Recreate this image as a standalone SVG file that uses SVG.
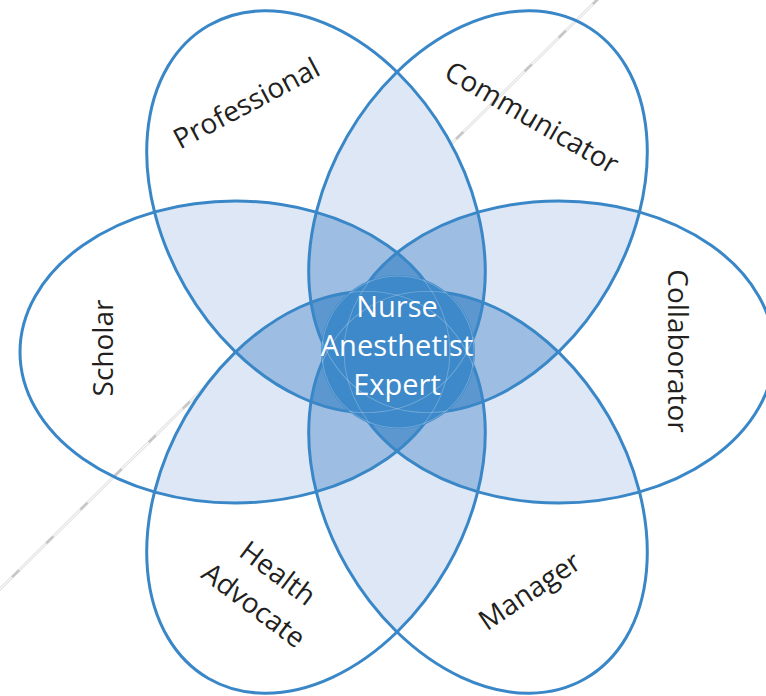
<svg xmlns="http://www.w3.org/2000/svg" xmlns:xlink="http://www.w3.org/1999/xlink" width="766" height="696" viewBox="0 0 766 696">
<style>
.lbl{font-family:"Open Sans","Noto Sans","Liberation Sans",sans-serif;font-size:28px;fill:#231f20;text-anchor:middle}
.ctr{font-family:"Open Sans","Noto Sans","Liberation Sans",sans-serif;font-size:29px;fill:#ffffff;text-anchor:middle}
.petal{fill:none;stroke:#3a87c8;stroke-width:3}
.ghost{fill:none;stroke:#ffffff;stroke-opacity:0.28;stroke-width:0.9}
</style>
<defs>
<ellipse id="e0" cx="559" cy="352" rx="215" ry="151"/>
<ellipse id="e1" cx="478" cy="492.3" rx="215" ry="151" transform="rotate(60 478 492.3)"/>
<ellipse id="e2" cx="316" cy="492.3" rx="215" ry="151" transform="rotate(-60 316 492.3)"/>
<ellipse id="e3" cx="235" cy="352" rx="215" ry="151"/>
<ellipse id="e4" cx="316" cy="211.7" rx="215" ry="151" transform="rotate(60 316 211.7)"/>
<ellipse id="e5" cx="478" cy="211.7" rx="215" ry="151" transform="rotate(-60 478 211.7)"/>
<clipPath id="c0"><use xlink:href="#e0" href="#e0"/></clipPath>
<clipPath id="c1"><use xlink:href="#e1" href="#e1"/></clipPath>
<clipPath id="c2"><use xlink:href="#e2" href="#e2"/></clipPath>
<clipPath id="c3"><use xlink:href="#e3" href="#e3"/></clipPath>
<clipPath id="c4"><use xlink:href="#e4" href="#e4"/></clipPath>
<clipPath id="c5"><use xlink:href="#e5" href="#e5"/></clipPath>
<clipPath id="cc"><circle cx="398" cy="352" r="77"/></clipPath>
</defs>

<g id="guide-line">
<line x1="600" y1="-3" x2="-3" y2="592" stroke="#e4e4e4" stroke-width="3"/>
<line x1="600" y1="-3" x2="-3" y2="592" stroke="#ffffff" stroke-width="1"/>
<line x1="600" y1="-3" x2="-3" y2="592" stroke="#c6c6c6" stroke-width="2.5" stroke-dasharray="10 38"/>
</g>

<g id="overlaps">
<g id="overlap-2" fill="#dde7f5">
<g clip-path="url(#c0)"><use href="#e1"/></g>
<g clip-path="url(#c0)"><use href="#e2"/></g>
<g clip-path="url(#c0)"><use href="#e3"/></g>
<g clip-path="url(#c0)"><use href="#e4"/></g>
<g clip-path="url(#c0)"><use href="#e5"/></g>
<g clip-path="url(#c1)"><use href="#e2"/></g>
<g clip-path="url(#c1)"><use href="#e3"/></g>
<g clip-path="url(#c1)"><use href="#e4"/></g>
<g clip-path="url(#c1)"><use href="#e5"/></g>
<g clip-path="url(#c2)"><use href="#e3"/></g>
<g clip-path="url(#c2)"><use href="#e4"/></g>
<g clip-path="url(#c2)"><use href="#e5"/></g>
<g clip-path="url(#c3)"><use href="#e4"/></g>
<g clip-path="url(#c3)"><use href="#e5"/></g>
<g clip-path="url(#c4)"><use href="#e5"/></g>
</g>
<g id="overlap-3" fill="#9ebde2">
<g clip-path="url(#c0)"><g clip-path="url(#c1)"><use href="#e2"/></g></g>
<g clip-path="url(#c0)"><g clip-path="url(#c1)"><use href="#e3"/></g></g>
<g clip-path="url(#c0)"><g clip-path="url(#c1)"><use href="#e4"/></g></g>
<g clip-path="url(#c0)"><g clip-path="url(#c1)"><use href="#e5"/></g></g>
<g clip-path="url(#c0)"><g clip-path="url(#c2)"><use href="#e3"/></g></g>
<g clip-path="url(#c0)"><g clip-path="url(#c2)"><use href="#e4"/></g></g>
<g clip-path="url(#c0)"><g clip-path="url(#c2)"><use href="#e5"/></g></g>
<g clip-path="url(#c0)"><g clip-path="url(#c3)"><use href="#e4"/></g></g>
<g clip-path="url(#c0)"><g clip-path="url(#c3)"><use href="#e5"/></g></g>
<g clip-path="url(#c0)"><g clip-path="url(#c4)"><use href="#e5"/></g></g>
<g clip-path="url(#c1)"><g clip-path="url(#c2)"><use href="#e3"/></g></g>
<g clip-path="url(#c1)"><g clip-path="url(#c2)"><use href="#e4"/></g></g>
<g clip-path="url(#c1)"><g clip-path="url(#c2)"><use href="#e5"/></g></g>
<g clip-path="url(#c1)"><g clip-path="url(#c3)"><use href="#e4"/></g></g>
<g clip-path="url(#c1)"><g clip-path="url(#c3)"><use href="#e5"/></g></g>
<g clip-path="url(#c1)"><g clip-path="url(#c4)"><use href="#e5"/></g></g>
<g clip-path="url(#c2)"><g clip-path="url(#c3)"><use href="#e4"/></g></g>
<g clip-path="url(#c2)"><g clip-path="url(#c3)"><use href="#e5"/></g></g>
<g clip-path="url(#c2)"><g clip-path="url(#c4)"><use href="#e5"/></g></g>
<g clip-path="url(#c3)"><g clip-path="url(#c4)"><use href="#e5"/></g></g>
</g>
<g id="overlap-4" fill="#5d97d0">
<g clip-path="url(#c0)"><g clip-path="url(#c1)"><g clip-path="url(#c2)"><use href="#e3"/></g></g></g>
<g clip-path="url(#c0)"><g clip-path="url(#c1)"><g clip-path="url(#c2)"><use href="#e4"/></g></g></g>
<g clip-path="url(#c0)"><g clip-path="url(#c1)"><g clip-path="url(#c2)"><use href="#e5"/></g></g></g>
<g clip-path="url(#c0)"><g clip-path="url(#c1)"><g clip-path="url(#c3)"><use href="#e4"/></g></g></g>
<g clip-path="url(#c0)"><g clip-path="url(#c1)"><g clip-path="url(#c3)"><use href="#e5"/></g></g></g>
<g clip-path="url(#c0)"><g clip-path="url(#c1)"><g clip-path="url(#c4)"><use href="#e5"/></g></g></g>
<g clip-path="url(#c0)"><g clip-path="url(#c2)"><g clip-path="url(#c3)"><use href="#e4"/></g></g></g>
<g clip-path="url(#c0)"><g clip-path="url(#c2)"><g clip-path="url(#c3)"><use href="#e5"/></g></g></g>
<g clip-path="url(#c0)"><g clip-path="url(#c2)"><g clip-path="url(#c4)"><use href="#e5"/></g></g></g>
<g clip-path="url(#c0)"><g clip-path="url(#c3)"><g clip-path="url(#c4)"><use href="#e5"/></g></g></g>
<g clip-path="url(#c1)"><g clip-path="url(#c2)"><g clip-path="url(#c3)"><use href="#e4"/></g></g></g>
<g clip-path="url(#c1)"><g clip-path="url(#c2)"><g clip-path="url(#c3)"><use href="#e5"/></g></g></g>
<g clip-path="url(#c1)"><g clip-path="url(#c2)"><g clip-path="url(#c4)"><use href="#e5"/></g></g></g>
<g clip-path="url(#c1)"><g clip-path="url(#c3)"><g clip-path="url(#c4)"><use href="#e5"/></g></g></g>
<g clip-path="url(#c2)"><g clip-path="url(#c3)"><g clip-path="url(#c4)"><use href="#e5"/></g></g></g>
</g>
</g>

<g id="connectors"/>

<g id="node-collaborator">
<use href="#e0" class="petal"/>
<text class="lbl" transform="translate(668 351) rotate(90)">Collaborator</text>
</g>
<g id="node-manager">
<use href="#e1" class="petal"/>
<text class="lbl" transform="translate(535 599) rotate(-34)">Manager</text>
</g>
<g id="node-health-advocate">
<use href="#e2" class="petal"/>
<text class="lbl" transform="translate(272 581) rotate(37)"><tspan x="0" y="0">Health</tspan><tspan x="0" y="40">Advocate</tspan></text>
</g>
<g id="node-scholar">
<use href="#e3" class="petal"/>
<text class="lbl" transform="translate(113 348) rotate(-90)">Scholar</text>
</g>
<g id="node-professional">
<use href="#e4" class="petal"/>
<text class="lbl" transform="translate(251 112) rotate(-28)">Professional</text>
</g>
<g id="node-communicator">
<use href="#e5" class="petal"/>
<text class="lbl" transform="translate(527 126) rotate(30)">Communicator</text>
</g>

<g id="node-center">
<circle cx="398" cy="352" r="77" fill="#3d89c9"/>
<g clip-path="url(#cc)">
<use href="#e0" class="ghost"/>
<use href="#e1" class="ghost"/>
<use href="#e2" class="ghost"/>
<use href="#e3" class="ghost"/>
<use href="#e4" class="ghost"/>
<use href="#e5" class="ghost"/>
</g>
<circle cx="398" cy="352" r="76" fill="none" stroke="#ffffff" stroke-opacity="0.25" stroke-width="1"/>
<text class="ctr" x="397" y="317">Nurse</text>
<text class="ctr" x="397" y="356">Anesthetist</text>
<text class="ctr" x="397" y="395">Expert</text>
</g>
</svg>
